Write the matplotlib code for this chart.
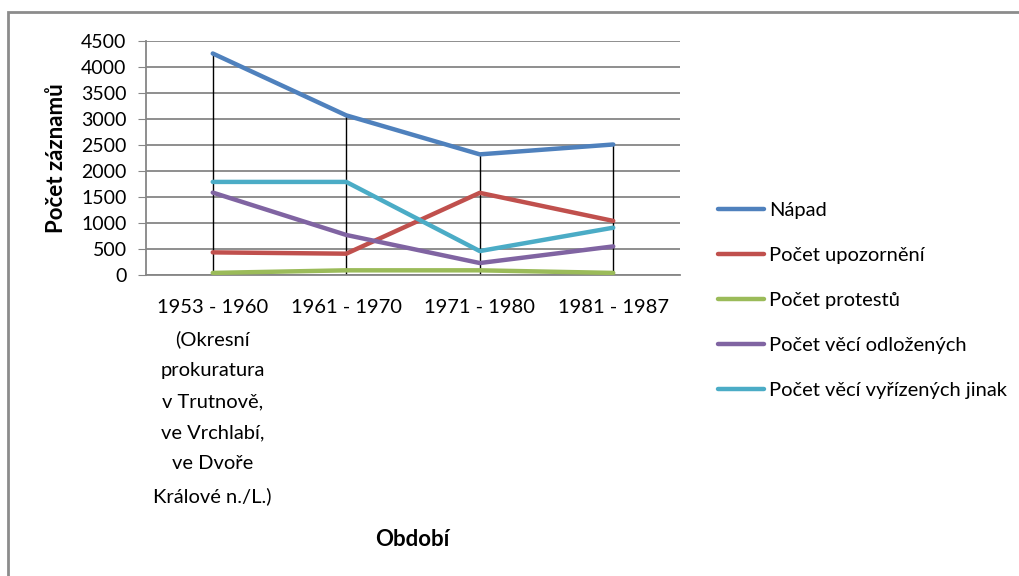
import matplotlib
matplotlib.use("Agg")
from matplotlib import pyplot as plt
from matplotlib.patches import Rectangle
import numpy as np

categories = ["1953 - 1960\n(Okresní\nprokuratura\nv Trutnově,\nve Vrchlabí,\nve Dvoře\nKrálové n./L.)",
              "1961 - 1970", "1971 - 1980", "1981 - 1987"]
napad = [4260, 3070, 2320, 2510]
upozorneni = [435, 410, 1580, 1040]
protesty = [40, 90, 90, 40]
odlozene = [1585, 770, 230, 550]
jinak = [1790, 1790, 460, 910]

series_names = ["Nápad", "Počet upozornění", "Počet protestů",
                "Počet věcí odložených", "Počet věcí vyřízených jinak"]
colors = ["#4F81BD", "#C0504D", "#9BBB59", "#8064A2", "#4BACC6"]
y_ticks = [0, 500, 1000, 1500, 2000, 2500, 3000, 3500, 4000, 4500]

plt.rcParams['font.family'] = ['Lato', 'DejaVu Sans']

fig = plt.figure(figsize=(10.2, 5.76), dpi=100)
fig.patches.append(Rectangle((8 / 1020, -0.1), 1.2, 1 - 12 / 576 + 0.1,
                             transform=fig.transFigure, fill=False,
                             edgecolor="#8c8c8c", linewidth=2))

ax = fig.add_axes([146 / 1020, 1 - 275 / 576, (680 - 146) / 1020, (275 - 41) / 576])
x = np.arange(len(categories))
all_series = [napad, upozorneni, protesty, odlozene, jinak]

# drop lines from the top series down to the axis
tops = np.max(np.array(all_series), axis=0)
ax.vlines(x, 0, tops, color="black", linewidth=1, zorder=2)

for vals, name, c in zip(all_series, series_names, colors):
    ax.plot(x, vals, color=c, linewidth=3.2, label=name, zorder=3,
            solid_capstyle="round")

ax.set_xlim(-0.5, 3.5)
ax.set_ylim(0, 4500)
ax.set_yticks(y_ticks)
ax.set_xticks(x)
ax.set_xticklabels(categories, fontsize=14.5, linespacing=2.0, va="top")
ax.tick_params(axis="x", length=0, pad=17)
ax.tick_params(axis="y", labelsize=14, length=6, color="#868686", pad=8)
ax.yaxis.grid(True, color="#868686", linewidth=1.3)
ax.set_axisbelow(True)
for s in ["top", "right"]:
    ax.spines[s].set_visible(False)
ax.spines["left"].set_color("#868686")
ax.spines["bottom"].set_color("#868686")
ax.spines["left"].set_linewidth(1.3)
ax.spines["bottom"].set_linewidth(1.3)

ax.set_ylabel("Počet záznamů", fontsize=16, fontweight="bold", labelpad=10)
fig.text(412 / 1020, 1 - 540 / 576, "Období", fontsize=16, fontweight="bold",
         ha="center", va="center")

fig.legend(loc="upper left", bbox_to_anchor=(700 / 1020, 1 - 184 / 576),
           frameon=False, fontsize=14.5, handlelength=2.3, handletextpad=0.25,
           labelspacing=1.38)

fig.savefig("out.png", dpi=100)
